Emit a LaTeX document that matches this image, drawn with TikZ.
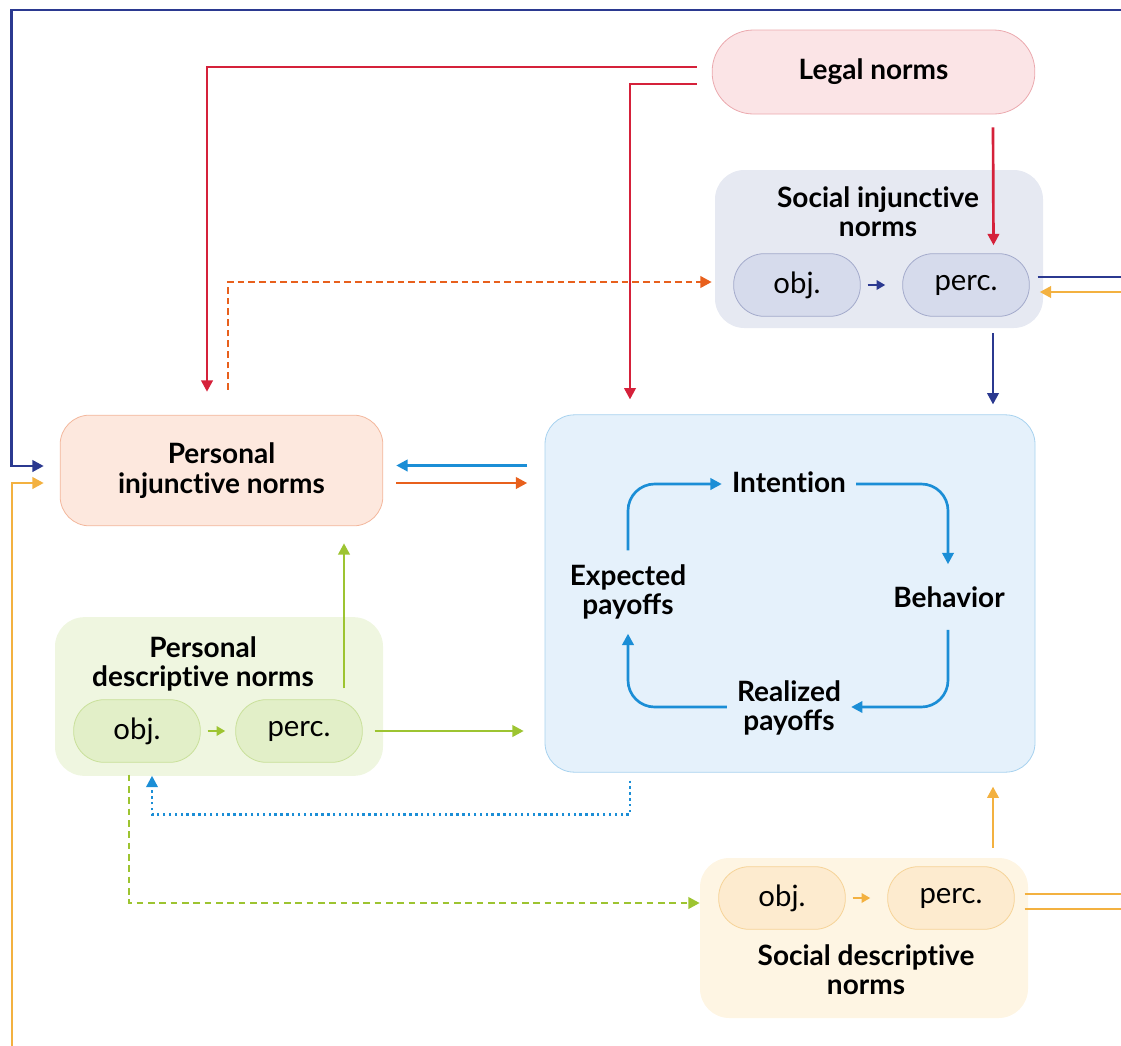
\documentclass[tikz,border=0pt]{standalone}
\usepackage{fontspec}
\setmainfont{Lato}
\usetikzlibrary{arrows.meta,calc}
\newcommand\ti{t\kern0pt i}
\definecolor{legalfill}{HTML}{FBE4E6}
\definecolor{legaldraw}{HTML}{EBA9AE}
\definecolor{sinjfill}{HTML}{E6E9F2}
\definecolor{sobjfill}{HTML}{D6DBEC}
\definecolor{sobjdraw}{HTML}{A3AACB}
\definecolor{pinfill}{HTML}{FDE8DE}
\definecolor{pindraw}{HTML}{F3B79C}
\definecolor{cenfill}{HTML}{E5F1FB}
\definecolor{cendraw}{HTML}{A7D2EF}
\definecolor{pdnfill}{HTML}{EFF6E0}
\definecolor{pobjfill}{HTML}{E2EFC8}
\definecolor{pobjdraw}{HTML}{C9E09A}
\definecolor{sdnfill}{HTML}{FEF5E3}
\definecolor{sdobjfill}{HTML}{FDEBCF}
\definecolor{sdobjdraw}{HTML}{F6D398}
\definecolor{cred}{HTML}{D5213A}
\definecolor{cdblue}{HTML}{2B3990}
\definecolor{corange}{HTML}{E8601C}
\definecolor{cblue}{HTML}{1B8ED6}
\definecolor{cgreen}{HTML}{9DC431}
\definecolor{cyellow}{HTML}{F3B140}
\begin{document}
\begin{tikzpicture}[x=0.75pt,y=-0.75pt,
  bigbox/.style={rectangle, rounded corners=22pt, inner sep=0pt, align=center,
    font=\fontsize{21}{22}\selectfont\bfseries},
  pill/.style={rectangle, rounded corners=23pt, minimum width=95pt, minimum height=47pt,
    inner sep=0pt, font=\fontsize{22}{24}\selectfont, line width=0.6pt},
  ttl/.style={align=center, inner sep=0pt, font=\fontsize{21}{22}\selectfont\bfseries},
  lbl/.style={align=center, inner sep=0pt, font=\fontsize{21}{22}\selectfont\bfseries},
  conn/.style={line width=2pt, -{Triangle[length=8.5pt,width=8.5pt]}},
  plain/.style={line width=2pt},
  smallarr/.style={line width=2pt, -{Triangle[length=6.5pt,width=7pt]}}
]
\useasboundingbox (0,0) rectangle (1121,1046);

% boxes
\node[bigbox, fill=legalfill, draw=legaldraw, line width=0.6pt, rounded corners=31pt,
  minimum width=242pt, minimum height=63pt] (legal) at (873.5,72) {Legal norms};

\node[bigbox, fill=sinjfill, minimum width=246pt, minimum height=118.5pt] (sinj) at (879,249) {};
\node[ttl] (sinjt) at (878,212) {Social injunc\ti ve\\norms};
\node[pill, fill=sobjfill, draw=sobjdraw] (sobj) at (797,285) {obj.};
\node[pill, fill=sobjfill, draw=sobjdraw] (sperc) at (966,285) {perc.};

\node[bigbox, fill=pinfill, draw=pindraw, line width=0.6pt,
  minimum width=242pt, minimum height=83pt] (pin) at (221.5,470.5) {Personal\\injunc\ti ve norms};

\node[bigbox, fill=cenfill, draw=cendraw, line width=0.6pt,
  minimum width=367.5pt, minimum height=268pt] (central) at (790,593.5) {};
\node[lbl] (intent) at (789,482) {Inten\ti on};
\node[lbl] (behav) at (949,597) {Behavior};
\node[lbl] (real) at (789,708) {Realized\\payoffs};
\node[lbl] (expect) at (628,592) {Expected\\payoffs};

\node[bigbox, fill=pdnfill, minimum width=246pt, minimum height=119pt] (pdn) at (219,696.5) {};
\node[ttl] (pdnt) at (203,664) {Personal\\descrip\ti ve norms};
\node[pill, fill=pobjfill, draw=pobjdraw] (pobj) at (137,731) {obj.};
\node[pill, fill=pobjfill, draw=pobjdraw] (pperc) at (299,731) {perc.};

\node[bigbox, fill=sdnfill, minimum width=246pt, minimum height=120pt] (sdn) at (864,938) {};
\node[ttl] (sdnt) at (866,970) {Social descrip\ti ve\\norms};
\node[pill, fill=sdobjfill, draw=sdobjdraw] (sdobj) at (782,898) {obj.};
\node[pill, fill=sdobjfill, draw=sdobjdraw] (sdperc) at (951,898) {perc.};

% edge coordinates
\coordinate (topR) at (1121,10);
\coordinate (botL) at (12,1046);
\coordinate (rA) at (1121,277);
\coordinate (rB) at (1121,292);
\coordinate (rC) at (1121,894);
\coordinate (rD) at (1121,909);

% red lines from legal norms
\draw[conn, cred] ($(legal.west)+(-15,-5)$) -| ($(pin.north)+(-14.5,-23)$);
\draw[conn, cred] ($(legal.west)+(-15,12)$) -| ($(central.north)+(-160,-15)$);
\draw[conn, cred] ($(legal.south)+(119.5,13)$) -- ($(sperc.north)+(27.5,-8)$);

% dark blue
\draw[conn, cdblue] (topR) -| ($(pin.west)+(-48,-4.5)$) -- ($(pin.west)+(-16,-4.5)$);
\draw[plain, cdblue] ($(sperc.east)+(8,-8)$) -- (rA);
\draw[conn, cdblue] ($(sinj.south)+(114,5)$) -- ($(central.north)+(203,-10)$);
\draw[smallarr, cdblue] ($(sobj.east)+(7,0)$) -- ($(sperc.west)+(-17,0)$);

% yellow
\draw[conn, cyellow] (botL) |- ($(pin.west)+(-16,12.5)$);
\draw[conn, cyellow] (rB) -- ($(sperc.east)+(10,7)$);
\draw[conn, cyellow] ($(sdn.north)+(129,-10)$) -- ($(central.south)+(203,14)$);
\draw[plain, cyellow] ($(sdperc.east)+(10,-4)$) -- (rC);
\draw[plain, cyellow] ($(sdperc.east)+(10,11)$) -- (rD);
\draw[smallarr, cyellow] ($(sdobj.east)+(7,0)$) -- ($(sdperc.west)+(-17,0)$);

% orange
\draw[conn, corange, dashed, dash pattern=on 5pt off 3pt] ($(pin.north)+(6.5,-25)$) |- ($(sinj.west)+(-3,33)$);
\draw[conn, corange] ($(pin.east)+(13,12.5)$) -- ($(pin.east)+(144,12.5)$);

% blue
\draw[conn, cblue] ($(pin.east)+(144,-5)$) -- ($(pin.east)+(13,-5)$);
\draw[conn, cblue, line width=1.8pt, dash pattern=on 1.8pt off 2.6pt] ($(central.south)+(-160,8)$) -- ++(0,34) -| ($(pobj.south)+(15,13)$);

% green
\draw[conn, cgreen] ($(pperc.north)+(45,-11)$) -- ($(pin.south)+(122.5,17)$);
\draw[conn, cgreen] ($(pperc.east)+(12,0)$) -- ($(pperc.east)+(161,0)$);
\draw[conn, cgreen, dashed, dash pattern=on 5pt off 3.5pt] ($(pobj.south)+(-8,12)$) |- ($(sdn.west)+(0,-35)$);
\draw[smallarr, cgreen] ($(pobj.east)+(7,0)$) -- ($(pperc.west)+(-10,0)$);

% central loop
\draw[conn, cblue, rounded corners=20pt] ($(intent.east)+(10,2)$) -| ($(behav.north)+(-1,-22)$);
\draw[conn, cblue, rounded corners=20pt] ($(behav.south)+(-1,22)$) |- ($(real.east)+(10,-1)$);
\draw[conn, cblue, rounded corners=20pt] ($(real.west)+(-10,-1)$) -| ($(expect.south)+(0,14)$);
\draw[conn, cblue, rounded corners=20pt] ($(expect.north)+(0,-14)$) |- ($(intent.west)+(-10,2)$);
\end{tikzpicture}
\end{document}
